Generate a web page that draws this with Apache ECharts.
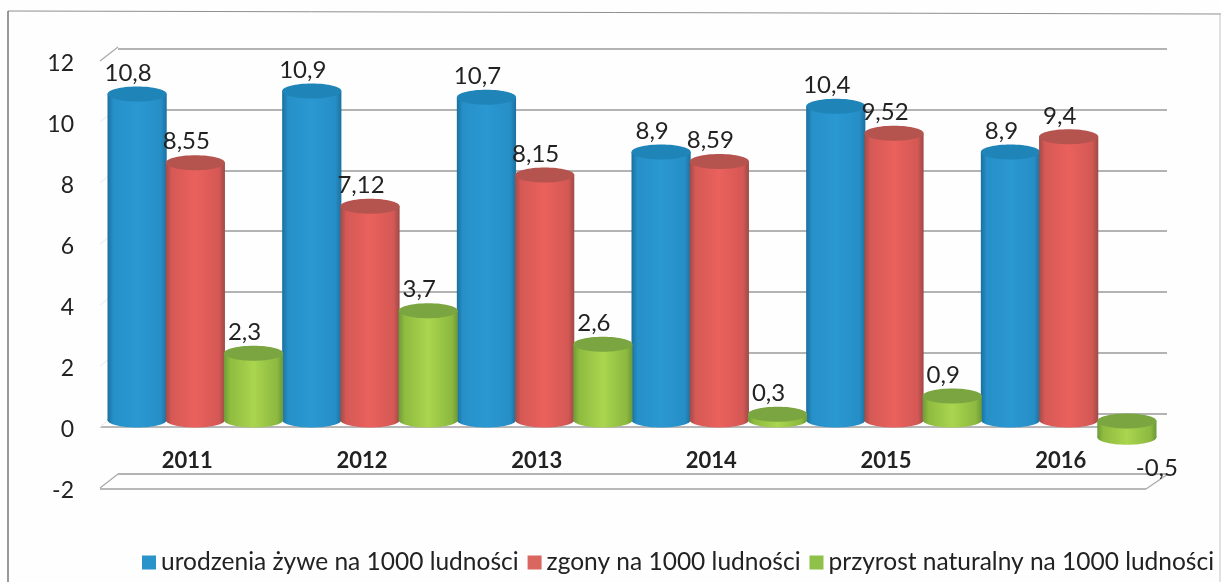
<!DOCTYPE html>
<html>
<head>
<meta charset="utf-8">
<style>html,body{margin:0;padding:0;background:#fefefe}#c{width:1221px;height:582px}</style>
<script src="https://cdn.jsdelivr.net/npm/echarts@6/dist/echarts.min.js"></script>
</head>
<body>
<div id="c"></div>
<script>
const years = ['2011', '2012', '2013', '2014', '2015', '2016'];
const urodzenia = [10.8, 10.9, 10.7, 8.9, 10.4, 8.9];
const zgony = [8.55, 7.12, 8.15, 8.59, 9.52, 9.4];
const przyrost = [2.3, 3.7, 2.6, 0.3, 0.9, -0.5];
const yTicks = [-2, 0, 2, 4, 6, 8, 10, 12];

const palette = [
  {name: 'urodzenia żywe na 1000 ludności', data: urodzenia, legend: '#2a93c9', cap: '#1f84b8',
   stops: ['#1b6f9f', '#2690c8', '#2a98d2', '#268ec6', '#1c709f']},
  {name: 'zgony na 1000 ludności', data: zgony, legend: '#d9665f', cap: '#b5544f',
   stops: ['#a04c48', '#d65955', '#ea615d', '#d45854', '#9c4a46']},
  {name: 'przyrost naturalny na 1000 ludności', data: przyrost, legend: '#8fc04a', cap: '#7aa540',
   stops: ['#6d9b3a', '#8fbb3f', '#aad54f', '#8cb93f', '#6b983a']}
];

function cylinder(idx, s) {
  return function (params, api) {
    const i = api.value(0), v = api.value(1);
    const band = api.size([1, 0])[0];
    const w = band / 3;
    const cx = api.coord([i, 0])[0] + (idx - 1) * w;
    const y0 = api.coord([i, 0])[1], yv = api.coord([i, v])[1];
    const neg = v < 0;
    const yTop = neg ? y0 - 6 : yv - 3.5;
    const yBot = neg ? yv - 5 : y0 - 7;
    const rx = w / 2 + 0.5, ry = 7.5;
    const grad = new echarts.graphic.LinearGradient(0, 0, 1, 0, [
      {offset: 0, color: s.stops[0]}, {offset: 0.1, color: s.stops[1]},
      {offset: 0.5, color: s.stops[2]}, {offset: 0.9, color: s.stops[3]}, {offset: 1, color: s.stops[4]}
    ]);
    const text = String(v).replace('.', ',');
    return {
      type: 'group',
      children: [
        {type: 'ellipse', shape: {cx: cx, cy: yBot, rx: rx, ry: ry}, style: {fill: grad}},
        {type: 'rect', shape: {x: cx - rx, y: yTop, width: rx * 2, height: yBot - yTop}, style: {fill: grad}},
        {type: 'ellipse', shape: {cx: cx, cy: yTop, rx: rx, ry: ry}, style: {fill: s.cap}},
        {type: 'text', z2: 50, style: {
          text: text, x: cx + (neg ? 30 : -9), y: neg ? yv + 26 : yv - 24.5,
          fill: '#222', font: '24px Lato, "Noto Sans", sans-serif', align: 'center', verticalAlign: 'middle'
        }}
      ]
    };
  };
}

const series = palette.map(function (s, idx) {
  return {
    type: 'custom', name: s.name, xAxisIndex: 0, yAxisIndex: 0, clip: false, z: 5 + idx,
    itemStyle: {color: s.legend},
    renderItem: cylinder(idx, s),
    encode: {x: 0, y: 1},
    data: s.data.map(function (v, i) { return [i, v]; })
  };
});

// slanted connectors between the front edge and the back wall
const slants = yTicks.map(function (t) {
  const y = 488 - (t + 2) * 30.5;
  const strong = t === 12 || t === -2;
  return {type: 'line', z: 1, shape: {x1: 100, y1: y, x2: 118, y2: y - 14},
    style: {stroke: strong ? '#a8a8a8' : '#eeeeee', lineWidth: 1.2}};
});

const chart = echarts.init(document.getElementById('c'));
chart.setOption({
  animation: false,
  backgroundColor: '#fefefe',
  legend: {
    left: 137, top: 545, itemWidth: 14, itemHeight: 14, itemGap: 9, icon: 'rect', selectedMode: false,
    textStyle: {fontFamily: 'Lato, "Noto Sans", sans-serif', fontSize: 24.5, color: '#222'},
    data: palette.map(function (s) { return s.name; })
  },
  grid: [
    {left: 108, right: 65, top: 61, height: 427},
    {left: 118, right: 54, top: 49, height: 425},
    {left: 100, right: 75, top: 427, height: 62},
    {left: 108, right: 65, top: 64, height: 427}
  ],
  xAxis: [
    {type: 'category', gridIndex: 0, data: years, boundaryGap: true,
     axisLine: {show: false}, axisTick: {show: false},
     axisLabel: {margin: -38, padding: [0, 16, 0, 0], color: '#222', fontWeight: 'bold', fontSize: 22,
       fontFamily: 'Lato, "Noto Sans", sans-serif'}},
    {type: 'category', gridIndex: 1, data: years, show: false},
    {type: 'category', gridIndex: 2, data: years, show: false},
    {type: 'category', gridIndex: 3, data: years, show: false}
  ],
  yAxis: [
    {type: 'value', gridIndex: 0, min: -2, max: 12, interval: 2, show: false},
    {type: 'value', gridIndex: 1, min: -2, max: 12, interval: 2,
     axisLine: {show: false}, axisTick: {show: false}, axisLabel: {show: false},
     splitLine: {show: true, lineStyle: {color: '#9a9a9a', width: 1.5}}},
    {type: 'value', gridIndex: 2, min: -2, max: 0, interval: 2,
     axisLine: {show: false}, axisTick: {show: false}, axisLabel: {show: false},
     splitLine: {show: true, lineStyle: {color: '#a0a0a0', width: 1.5}}},
    {type: 'value', gridIndex: 3, min: -2, max: 12, interval: 2,
     axisLine: {show: false}, axisTick: {show: false}, splitLine: {show: false},
     axisLabel: {margin: 34, color: '#222', fontSize: 23, fontFamily: 'Lato, "Noto Sans", sans-serif'}}
  ],
  graphic: slants.concat([
    {type: 'line', z: 1, shape: {x1: 1146, y1: 489, x2: 1168, y2: 474}, style: {stroke: '#a8a8a8', lineWidth: 1.2}},
    {type: 'line', z: 1, shape: {x1: 8, y1: 11, x2: 1221, y2: 14}, style: {stroke: '#8f8f8f', lineWidth: 1}},
    {type: 'line', z: 1, shape: {x1: 8, y1: 11, x2: 8, y2: 582}, style: {stroke: '#555', lineWidth: 1.2}},
    {type: 'line', z: 1, shape: {x1: 1220, y1: 14, x2: 1220, y2: 582}, style: {stroke: '#c4c4c4', lineWidth: 1}}
  ]),
  series: series
});
</script>
</body>
</html>
